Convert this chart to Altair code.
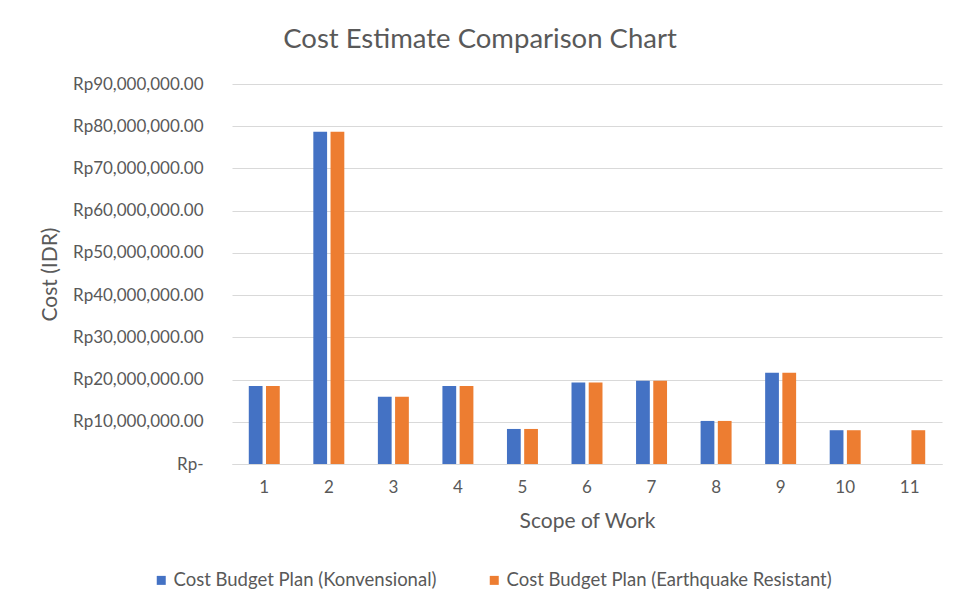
import altair as alt
import pandas as pd

scopes = [str(i) for i in range(1, 12)]
konvensional = [18.5e6, 78.7e6, 15.9e6, 18.5e6, 8.3e6, 19.3e6, 19.7e6, 10.2e6, 21.6e6, 8.0e6, None]
earthquake = [18.5e6, 78.7e6, 15.9e6, 18.5e6, 8.3e6, 19.3e6, 19.7e6, 10.2e6, 21.6e6, 8.0e6, 8.0e6]
series = ["Cost Budget Plan (Konvensional)", "Cost Budget Plan (Earthquake Resistant)"]
colors = ["#4472C4", "#ED7D31"]
y_ticks = [0, 10e6, 20e6, 30e6, 40e6, 50e6, 60e6, 70e6, 80e6, 90e6]

rows = []
for s, vals in zip(series, [konvensional, earthquake]):
    for c, v in zip(scopes, vals):
        if v is not None:
            rows.append({"scope": c, "series": s, "cost": v})
df = pd.DataFrame(rows)

TXT = "#595959"
FONT = "Lato"

chart = alt.Chart(df).mark_bar().encode(
    x=alt.X(
        "scope:O", sort=scopes,
        scale=alt.Scale(paddingInner=0.52, paddingOuter=0.26),
        axis=alt.Axis(title="Scope of Work", labelAngle=0, ticks=False,
                      domainColor="#d9d9d9", labelPadding=15, titlePadding=15,
                      labelFontSize=17, titleFontSize=21),
    ),
    xOffset=alt.XOffset("series:N", sort=series, scale=alt.Scale(paddingInner=0.2)),
    y=alt.Y(
        "cost:Q", scale=alt.Scale(domain=[0, 90e6]),
        axis=alt.Axis(
            title="Cost (IDR)", values=y_ticks, ticks=False, domain=False,
            gridColor="#d9d9d9", labelPadding=29, titlePadding=12,
            labelFontSize=17, titleFontSize=21,
            labelExpr="datum.value == 0 ? 'Rp-' : 'Rp' + format(datum.value, ',.2f')",
        ),
    ),
    color=alt.Color(
        "series:N",
        scale=alt.Scale(domain=series, range=colors),
        legend=alt.Legend(
            title=None, orient="none", direction="horizontal",
            legendX=-80, legendY=487, symbolType="square", symbolSize=81,
            symbolStrokeWidth=0, columnPadding=48, labelLimit=500, labelOffset=3,
        ),
    ),
).properties(
    width=710,
    height=380,
    autosize=alt.AutoSizeParams(type="none"),
    padding={"left": 224, "top": 76, "right": 4, "bottom": 140},
    title=alt.TitleParams(
        "Cost Estimate Comparison Chart", fontSize=27.5, font=FONT, color=TXT,
        fontWeight="normal", dx=-107, offset=0, baseline="alphabetic", anchor="middle",
    ),
).configure_axis(
    labelFont=FONT, titleFont=FONT, labelColor=TXT, titleColor=TXT,
    titleFontWeight="normal",
).configure_legend(
    labelFont=FONT, labelFontSize=18.5, labelColor=TXT,
).configure_view(stroke=None)

chart.save("out.html", embed_options={"renderer": "svg", "actions": False})
